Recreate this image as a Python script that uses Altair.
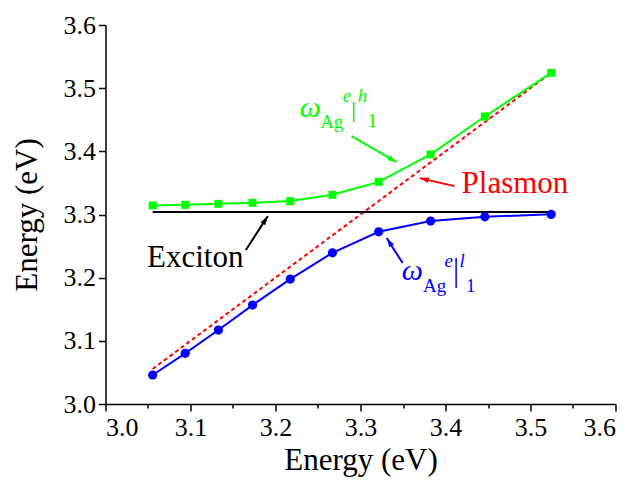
import math
import altair as alt
import pandas as pd

# ---------------- data ----------------
x_vals = [3.0555, 3.0938, 3.1328, 3.1730, 3.2174, 3.2670, 3.3214, 3.3825, 3.4463, 3.5243]
upper_branch = [3.3144, 3.3153, 3.3169, 3.3185, 3.3212, 3.3312, 3.3517, 3.3951, 3.4552, 3.5242]
lower_branch = [3.0459, 3.0802, 3.1171, 3.1566, 3.1978, 3.2394, 3.2726, 3.2896, 3.2964, 3.3002]
exciton_energy = 3.304
plasmon_x = [3.0555, 3.5243]          # plasmon: E = x
tick_values = [3.0, 3.05, 3.1, 3.15, 3.2, 3.25, 3.3, 3.35, 3.4, 3.45, 3.5, 3.55, 3.6]

# annotation text pieces
ann_text = ["\u03c9", "Ag", "e", "h", "1",
            "\u03c9", "Ag", "e", "l", "1",
            "Plasmon", "Exciton"]
ann_x = [3.2286, 3.2525, 3.2791, 3.2967, 3.3085,
         3.3484, 3.3735, 3.3989, 3.4166, 3.4242,
         3.4189, 3.0488]
ann_y = [3.4541, 3.4375, 3.4778, 3.4778, 3.4383,
         3.1962, 3.1772, 3.2168, 3.2168, 3.1772,
         3.3343, 3.2172]
ann_size = [30, 19, 19, 19, 19,
            30, 19, 19, 19, 19,
            31, 31]
ann_style = ["italic", "normal", "italic", "italic", "normal",
             "italic", "normal", "italic", "italic", "normal",
             "normal", "normal"]
ann_color = ["#00FF00"] * 5 + ["#0000FF"] * 5 + ["#FF0000", "#000000"]

# vertical evaluation bars "|"
bar_x = [3.2920, 3.4125]
bar_y1 = [3.4778, 3.2310]
bar_y2 = [3.4462, 3.1835]
bar_color = ["#00FF00", "#0000FF"]

# arrows: start -> tip
arr_x1 = [3.2896, 3.4107, 3.1651, 3.3496]
arr_y1 = [3.4241, 3.3449, 3.2437, 3.2231]
arr_x2 = [3.3425, 3.3696, 3.1910, 3.3308]
arr_y2 = [3.3829, 3.3576, 3.2975, 3.2627]
arr_color = ["#00FF00", "#FF0000", "#000000", "#0000FF"]

# ---------------- chart ----------------
W, H = 510, 379
FONT = "Liberation Serif"
dom = [3.0, 3.6]

xs = alt.Scale(domain=dom, nice=False, zero=False)
ys = alt.Scale(domain=dom, nice=False, zero=False)

minor_test = "round(datum.value*100) % 10 != 0"
label_expr = "round(datum.value*100) % 10 == 0 ? format(datum.value, '.1f') : ''"

axis_style = dict(
    values=tick_values, labelExpr=label_expr, title="Energy (eV)",
    tickSize={"condition": {"test": minor_test, "value": 4}, "value": 7},
    grid=False, domainColor="black", domainWidth=1.5, tickColor="black", tickWidth=1.5,
    labelFont=FONT, labelFontSize=26, labelColor="black",
    titleFont=FONT, titleFontSize=31, titleFontWeight="normal", titleColor="black",
)
x_axis = alt.Axis(labelPadding=3, titlePadding=5, **axis_style)
y_axis = alt.Axis(labelPadding=3, titlePadding=20, **axis_style)

curves = pd.DataFrame({"x": x_vals, "upper": upper_branch, "lower": lower_branch})
plasmon = pd.DataFrame({"x": plasmon_x, "y": plasmon_x})
exciton = pd.DataFrame({"x": plasmon_x, "y": [exciton_energy, exciton_energy]})

base_axes = alt.Chart(curves).mark_line(opacity=0).encode(
    x=alt.X("x:Q", scale=xs, axis=x_axis),
    y=alt.Y("upper:Q", scale=ys, axis=y_axis),
)

plasmon_line = alt.Chart(plasmon).mark_line(color="#FF0000", strokeWidth=2, strokeDash=[4, 3]).encode(
    x=alt.X("x:Q", scale=xs), y=alt.Y("y:Q", scale=ys))
exciton_line = alt.Chart(exciton).mark_line(color="#000000", strokeWidth=2).encode(
    x=alt.X("x:Q", scale=xs), y=alt.Y("y:Q", scale=ys))

green_line = alt.Chart(curves).mark_line(color="#00FF00", strokeWidth=2).encode(
    x=alt.X("x:Q", scale=xs), y=alt.Y("upper:Q", scale=ys))
green_pts = alt.Chart(curves).mark_point(shape="square", filled=True, size=64, color="#00FF00", opacity=1).encode(
    x=alt.X("x:Q", scale=xs), y=alt.Y("upper:Q", scale=ys))
blue_line = alt.Chart(curves).mark_line(color="#0000FF", strokeWidth=2).encode(
    x=alt.X("x:Q", scale=xs), y=alt.Y("lower:Q", scale=ys))
blue_pts = alt.Chart(curves).mark_point(shape="circle", filled=True, size=85, color="#0000FF", opacity=1).encode(
    x=alt.X("x:Q", scale=xs), y=alt.Y("lower:Q", scale=ys))

ann = pd.DataFrame({"x": ann_x, "y": ann_y, "text": ann_text, "size": ann_size,
                    "style": ann_style, "color": ann_color})
text_normal = alt.Chart(ann).transform_filter("datum.style == 'normal'").mark_text(
    font=FONT, align="left", baseline="alphabetic").encode(
    x=alt.X("x:Q", scale=xs), y=alt.Y("y:Q", scale=ys), text="text:N",
    size=alt.Size("size:Q", scale=None, legend=None),
    color=alt.Color("color:N", scale=None, legend=None))
text_italic = alt.Chart(ann).transform_filter("datum.style == 'italic'").mark_text(
    font=FONT, align="left", baseline="alphabetic", fontStyle="italic").encode(
    x=alt.X("x:Q", scale=xs), y=alt.Y("y:Q", scale=ys), text="text:N",
    size=alt.Size("size:Q", scale=None, legend=None),
    color=alt.Color("color:N", scale=None, legend=None))

bars = pd.DataFrame({"x": bar_x, "y1": bar_y1, "y2": bar_y2, "color": bar_color})
bar_marks = alt.Chart(bars).mark_rule(strokeWidth=1.5).encode(
    x=alt.X("x:Q", scale=xs), y=alt.Y("y1:Q", scale=ys), y2="y2:Q",
    color=alt.Color("color:N", scale=None, legend=None))

# arrow head rotation computed from the plot's pixel aspect
angles = []
for a, b, c, d in zip(arr_x1, arr_y1, arr_x2, arr_y2):
    dx = (c - a) * W / (dom[1] - dom[0])
    dy = -(d - b) * H / (dom[1] - dom[0])
    angles.append(math.degrees(math.atan2(dx, -dy)) % 360)
arrows = pd.DataFrame({"x1": arr_x1, "y1": arr_y1, "x2": arr_x2, "y2": arr_y2,
                       "color": arr_color, "angle": angles})
arrow_shaft = alt.Chart(arrows).mark_rule(strokeWidth=2).encode(
    x=alt.X("x1:Q", scale=xs), y=alt.Y("y1:Q", scale=ys), x2="x2:Q", y2="y2:Q",
    color=alt.Color("color:N", scale=None, legend=None))
arrow_head = alt.Chart(arrows).mark_point(
    shape="M0,0L-0.8,2.6L0.8,2.6Z", filled=True, size=49, opacity=1, strokeWidth=0).encode(
    x=alt.X("x2:Q", scale=xs), y=alt.Y("y2:Q", scale=ys),
    angle=alt.Angle("angle:Q", scale=None),
    color=alt.Color("color:N", scale=None, legend=None))

chart = alt.layer(
    base_axes, plasmon_line, exciton_line, green_line, green_pts, blue_line, blue_pts,
    arrow_shaft, arrow_head, bar_marks, text_normal, text_italic
).properties(
    width=W, height=H,
    autosize=alt.AutoSizeParams(type="none"),
    padding={"left": 97.5, "top": 17, "right": 10, "bottom": 90},
    background="white",
).configure(font=FONT).configure_view(stroke=None)

chart.save("out.html", embed_options={"renderer": "svg", "actions": False})
